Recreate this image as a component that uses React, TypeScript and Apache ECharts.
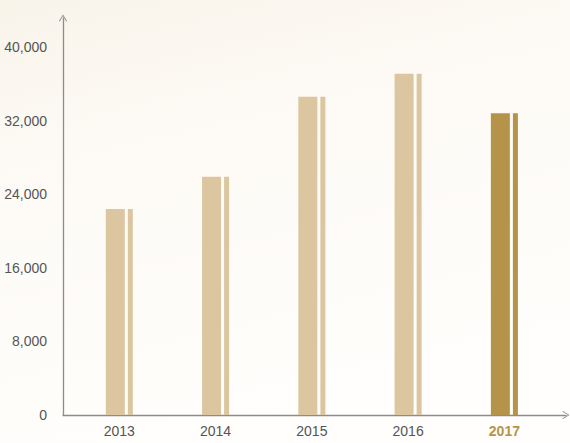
import React, { useEffect, useRef } from "react";
import * as echarts from "echarts";

const years = ["2013", "2014", "2015", "2016", "2017"];
const values = [22400, 25900, 34600, 37100, 32800];
const yTicks = [0, 8000, 16000, 24000, 32000, 40000];
const highlightIndex = 4;

const LIGHT = "#dbc69f";
const DARK = "#b5944a";
const AXIS = "#8c8c8c";
const FONT = '"Liberation Sans Narrow", "Liberation Sans", Arial, sans-serif';
const CHEVRON = "path://M0,80 L50,0 L100,80 L90,86 L50,18 L10,86 Z";

export default function App() {
  const ref = useRef<HTMLDivElement>(null);
  useEffect(() => {
    if (!ref.current) return;
    const chart = echarts.init(ref.current, undefined, { renderer: "svg" });
    const xs = years.map((_, i) => i);
    const mk = (i: number, v: number) => ({
      value: [i, v],
      itemStyle: { color: i === highlightIndex ? DARK : LIGHT },
    });
    chart.setOption({
      animation: false,
      backgroundColor: {
        type: "linear",
        x: 0, y: 0, x2: 0.3, y2: 1,
        colorStops: [
          { offset: 0, color: "#f9f4ea" },
          { offset: 0.35, color: "#fdfaf5" },
          { offset: 1, color: "#fffefc" },
        ],
      },
      grid: { left: 63, right: 4, top: 18, bottom: 28, containLabel: false, outerBoundsMode: "none" },
      xAxis: {
        type: "value",
        min: -0.585,
        max: 4.64,
        splitLine: { show: false },
        axisTick: { show: false },
        axisLine: {
          onZero: false,
          lineStyle: { color: AXIS, width: 1.3 },
          symbol: ["none", CHEVRON],
          symbolSize: [10, 7],
        },
        axisLabel: {
          customValues: xs,
          margin: 9,
          fontFamily: FONT,
          fontSize: 14,
          color: "#555",
          formatter: (v: number) => {
            const i = Math.round(v);
            return i === highlightIndex ? `{hl|${years[i]}}` : `{n|${years[i]}}`;
          },
          rich: {
            n: { fontFamily: FONT, fontSize: 14, color: "#555" },
            hl: { fontFamily: FONT, fontSize: 14, color: DARK, fontWeight: "bold" },
          },
        },
      },
      yAxis: {
        type: "value",
        min: 0,
        max: 43150,
        interval: 8000,
        splitLine: { show: false },
        axisTick: { show: false },
        axisLine: {
          show: true,
          onZero: false,
          lineStyle: { color: AXIS, width: 1.3 },
          symbol: ["none", CHEVRON],
          symbolSize: [10, 7],
        },
        axisLabel: {
          customValues: yTicks,
          margin: 16,
          fontFamily: FONT,
          fontSize: 14,
          color: "#555",
          formatter: (v: number) => v.toLocaleString("en-US"),
        },
      },
      series: [
        {
          type: "bar",
          barWidth: 19,
          barGap: "16%",
          data: values.map((v, i) => mk(i, v)),
        },
        {
          type: "bar",
          barWidth: 5,
          data: values.map((v, i) => mk(i, v)),
        },
      ],
    });
    return () => chart.dispose();
  }, []);
  return (
    <div
      ref={ref}
      style={{ position: "fixed", left: 0, top: 0, width: 570, height: 443 }}
    />
  );
}
